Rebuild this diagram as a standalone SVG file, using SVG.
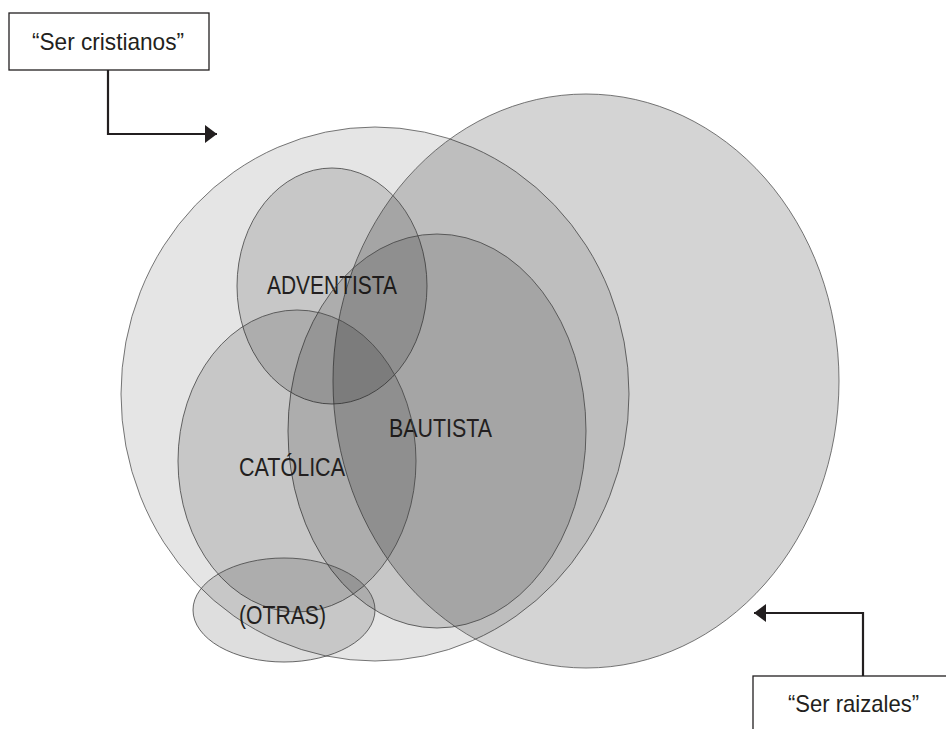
<svg xmlns="http://www.w3.org/2000/svg" width="946" height="729" viewBox="0 0 946 729">
<defs>
<style>
.big{fill:#000;fill-opacity:0.1;stroke:#555;stroke-opacity:0.8;stroke-width:1}
.big2{fill:#000;fill-opacity:0.17;stroke:#555;stroke-opacity:0.8;stroke-width:1}
.sm{fill:#000;fill-opacity:0.13;stroke:#444;stroke-opacity:0.8;stroke-width:1}
.lbl{font-family:"Liberation Sans",Arial,sans-serif;font-size:26px;fill:#231f20}
.box{fill:#fff;stroke:#231f20;stroke-width:1.3}
.btxt{font-family:"Liberation Sans",Arial,sans-serif;font-size:24px;fill:#231f20}
.conn{fill:none;stroke:#231f20;stroke-width:2.2}
</style>
<marker id="ah" viewBox="0 0 12 18" refX="12" refY="9" markerWidth="12" markerHeight="18" markerUnits="userSpaceOnUse" orient="auto">
<path d="M0,0 L12,9 L0,18 Z" fill="#231f20"/>
</marker>
</defs>
<rect width="946" height="729" fill="#fff"/>
<g id="cristianos"><ellipse class="big" cx="375" cy="394" rx="254" ry="267"/></g>
<g id="raizales"><ellipse class="big2" cx="586" cy="381" rx="253" ry="287"/></g>
<g id="adventista"><ellipse class="sm" cx="332" cy="286" rx="95" ry="118"/><text class="lbl" x="267" y="294" textLength="130" lengthAdjust="spacingAndGlyphs">ADVENTISTA</text></g>
<g id="bautista"><ellipse class="sm" cx="437" cy="431" rx="149" ry="197"/><text class="lbl" x="389" y="437" textLength="103" lengthAdjust="spacingAndGlyphs">BAUTISTA</text></g>
<g id="catolica"><ellipse class="sm" cx="297" cy="461" rx="119" ry="151"/><text class="lbl" x="239" y="476" textLength="106" lengthAdjust="spacingAndGlyphs">CATÓLICA</text></g>
<g id="otras"><ellipse class="sm" cx="284" cy="610" rx="91" ry="52"/><text class="lbl" x="239" y="624" textLength="87" lengthAdjust="spacingAndGlyphs">(OTRAS)</text></g>
<g id="box-cristianos"><rect class="box" x="9" y="13" width="200" height="57"/><text class="btxt" x="32" y="50" textLength="152" lengthAdjust="spacingAndGlyphs">“Ser cristianos”</text></g>
<g id="box-raizales"><rect class="box" x="753" y="676" width="210" height="70"/><text class="btxt" x="788" y="712" textLength="131" lengthAdjust="spacingAndGlyphs">“Ser raizales”</text></g>
<g id="connectors">
<path class="conn" d="M108,70 V134 H217" marker-end="url(#ah)"/>
<path class="conn" d="M863,676 V613 H754" marker-end="url(#ah)"/>
</g>
</svg>
